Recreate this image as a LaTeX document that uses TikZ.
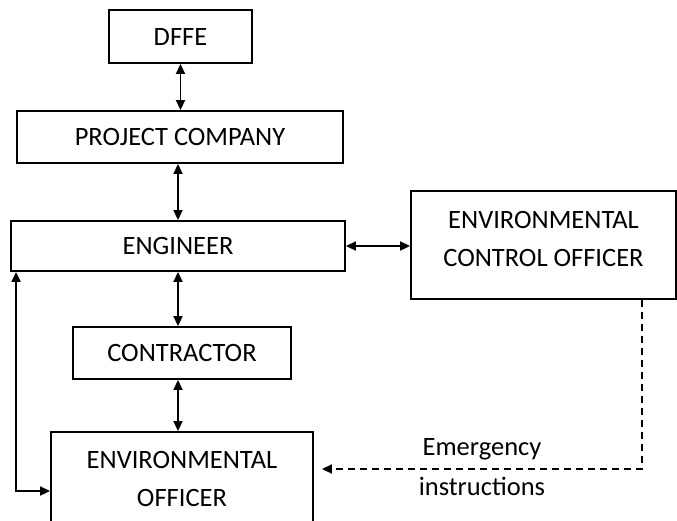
\documentclass[tikz,border=0pt]{standalone}
\usepackage{fontspec}
\setmainfont{Carlito}
\usetikzlibrary{arrows.meta}

\tikzset{
    box/.style={draw, line width=1.9pt, align=center, inner sep=0pt,
        font=\fontsize{26.5}{38}\selectfont},
    link/.style={line width=1.9pt, {Triangle[length=10pt,width=9pt]}-{Triangle[length=10pt,width=9pt]}},
    order/.style={line width=1.9pt, dash pattern=on 7pt off 5pt, -{Triangle[length=10pt,width=9pt]}},
    note/.style={font=\fontsize{26.5}{30}\selectfont}
}

\begin{document}
\begin{tikzpicture}[x=1pt,y=-1pt]
    \useasboundingbox (0,0) rectangle (677,520);

    \node[box, minimum width=143pt, minimum height=53pt] (dffe) at (180.5,36.5) {DFFE};
    \node[box, minimum width=326pt, minimum height=52pt] (company) at (180,137) {PROJECT COMPANY};
    \node[box, minimum width=334pt, minimum height=50pt] (engineer) at (178,246) {ENGINEER};
    \node[box, minimum width=265pt, minimum height=108pt] (eco) at (543.5,245) {ENVIRONMENTAL\\CONTROL OFFICER\\[-26pt]\mbox{}};
    \node[box, minimum width=218pt, minimum height=52pt] (contractor) at (182,353) {CONTRACTOR};
    \node[box, minimum width=262pt, minimum height=94pt] (eo) at (182,479) {ENVIRONMENTAL\\OFFICER};

    \draw[link] (dffe.south) -- (dffe.south |- company.north);
    \draw[link] (engineer.north) -- (engineer.north |- company.south);
    \draw[link] (engineer.east) -- (engineer.east -| eco.west);
    \draw[link] (engineer.south) -- (engineer.south |- contractor.north);
    \draw[link] (engineer.south |- contractor.south) -- (engineer.south |- eo.north);
    \draw[link] ([xshift=6pt]engineer.south west) |- ([yshift=-12pt]eo.west);

    \draw[order] ([xshift=98.5pt]eco.south) |- ([xshift=8pt,yshift=10pt]eo.east)
        node[note, pos=0.75, above=5pt] {Emergency}
        node[note, pos=0.75, below=4pt] {instructions};
\end{tikzpicture}
\end{document}
